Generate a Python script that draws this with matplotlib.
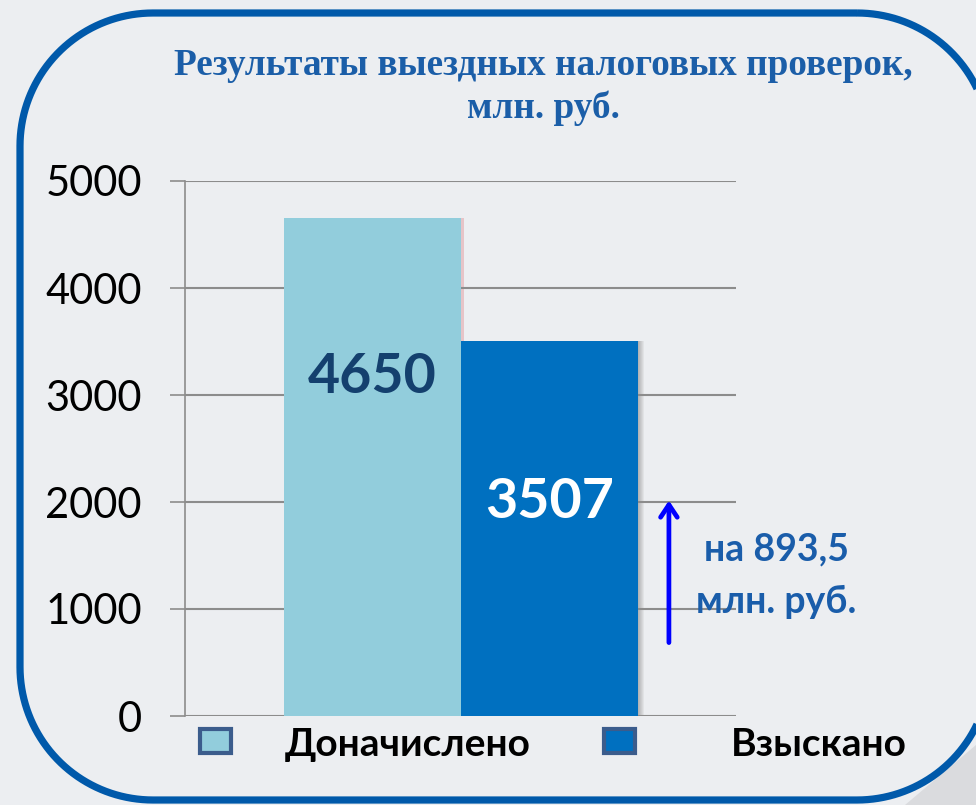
import numpy as np
import matplotlib.pyplot as plt
from matplotlib.patches import Rectangle, Polygon

categories = ["Доначислено", "Взыскано"]
values = [4650, 3507]
bar_colors = ["#92CDDC", "#0070C0"]
label_colors = ["#14406E", "white"]
yticks = [0, 1000, 2000, 3000, 4000, 5000]
title = "Результаты выездных налоговых проверок,\nмлн. руб."
note = ["на 893,5", "млн. руб."]

W, H = 976, 805
bg = "#ECEEF1"
fig = plt.figure(figsize=(W / 100, H / 100), dpi=100, facecolor=bg)

# frame layer in pixel coords
bgax = fig.add_axes([0, 0, 1, 1], zorder=0)
bgax.set_xlim(0, W)
bgax.set_ylim(H, 0)
bgax.axis("off")
bgax.add_patch(Polygon([(905, H), (W, H), (W, 745)], closed=True,
                       facecolor="#DADBDE", edgecolor="none"))

# rounded frame with circular corners
x0, y0, x1, y1, r = 20, 13, 990, 800, 133
pts = []
for cx, cy, a0 in [(x1 - r, y0 + r, -90), (x1 - r, y1 - r, 0),
                   (x0 + r, y1 - r, 90), (x0 + r, y0 + r, 180)]:
    t = np.radians(np.linspace(a0, a0 + 90, 40))
    pts += list(zip(cx + r * np.cos(t), cy + r * np.sin(t)))
bgax.add_patch(Polygon(pts, closed=True, facecolor="none",
                       edgecolor="#0059AA", lw=5.2))

ax = fig.add_axes([185 / W, (H - 716) / H, (736 - 185) / W, (716 - 181) / H], zorder=2)
ax.set_facecolor("none")
x = [0, 1]

# soft shadows to the right of the bars
for k in range(6):
    off = 0.006 * (k + 1)
    ax.bar(x[1] + off, values[1], width=1, color="#555555", alpha=0.07, zorder=1)
ax.bar(x[0] + 0.02, values[0], width=1, color="#E3A9AE", alpha=0.6, zorder=1)

ax.bar(x, values, width=1, color=bar_colors, zorder=3)

ax.set_xlim(-1.059, 2.054)
ax.set_ylim(0, 5000)
ax.set_yticks(yticks)
ax.set_yticklabels([str(t) for t in yticks], fontsize=30, family="Lato")
ax.tick_params(axis="y", length=11, width=1.2, color="#8C8C8C", pad=20)
ax.set_xticks([])
ax.grid(axis="y", color="#8C8C8C", lw=1.5, zorder=0)
for s in ["top", "right", "bottom"]:
    ax.spines[s].set_visible(False)
ax.spines["left"].set_color("#8C8C8C")
ax.spines["left"].set_linewidth(1.2)
ax.spines["left"].set_zorder(0)

label_y = [3170, 2000]
for xi, v, c, ly in zip(x, values, label_colors, label_y):
    ax.text(xi, ly, str(v), ha="center", va="center", fontsize=40,
            fontweight="bold", color=c, family="Lato", zorder=4)

ax.annotate("", xy=(1.675, 2040), xytext=(1.675, 660),
            arrowprops=dict(arrowstyle="->,head_length=0.9,head_width=0.6",
                            color="#0000FF", lw=3.4), annotation_clip=False)

fig.text(543 / W, 1 - 87 / H, title, ha="center", va="center", fontsize=26.8,
         fontweight="bold", color="#1B5EA8", family="Liberation Serif",
         linespacing=1.25)

fig.text(776 / W, 1 - 549 / H, note[0], ha="center", va="center", fontsize=27,
         fontweight="bold", color="#1A5DAA", family="Lato")
fig.text(776 / W, 1 - 602 / H, note[1], ha="center", va="center", fontsize=27,
         fontweight="bold", color="#1A5DAA", family="Lato")

# legend
leg_x = [200, 604]
txt_x = [408, 819]
for lx, tx, c, name in zip(leg_x, txt_x, bar_colors, categories):
    bgax.add_patch(Rectangle((lx, 729), 31, 24, facecolor=c,
                             edgecolor="#3B5C8C", lw=3))
    bgax.text(tx, 744, name, ha="center", va="center", fontsize=28,
              fontweight="bold", color="black", family="Lato")

fig.savefig("out.png", dpi=100, facecolor=bg)
